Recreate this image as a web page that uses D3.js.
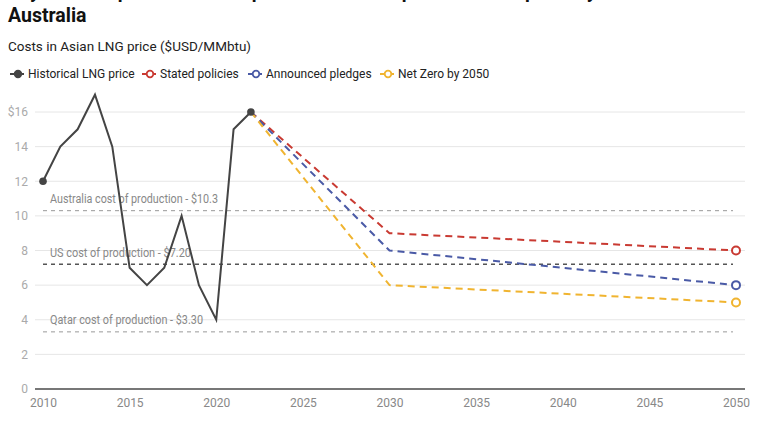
<!DOCTYPE html>
<html><head><meta charset="utf-8">
<script src="https://cdnjs.cloudflare.com/ajax/libs/d3/7.8.5/d3.min.js"></script>
<style>
body{margin:0;background:#fff;font-family:Roboto,"Noto Sans",sans-serif;}
svg{display:block;}
</style></head>
<body>
<script>
const titleLine1 = "Key costs of production compared to IEA LNG price forecast pathways for";
const titleLine2 = "Australia";
const subtitle = "Costs in Asian LNG price ($USD/MMbtu)";

const histYears = [2010,2011,2012,2013,2014,2015,2016,2017,2018,2019,2020,2021,2022];
const histValues = [12,14,15,17,14,7,6,7,10,6,4,15,16];

const projYears = [2022,2030,2050];
const statedPolicies = [16,9,8];
const announcedPledges = [16,8,6];
const netZero = [16,6,5];

const seriesNames = ["Historical LNG price","Stated policies","Announced pledges","Net Zero by 2050"];
const seriesColors = ["#444444","#c93a32","#4a5aa6","#f0b430"];

const refNames = ["Australia cost of production - $10.3","US cost of production - $7.20","Qatar cost of production - $3.30"];
const refValues = [10.3,7.2,3.3];

const yTicks = [0,2,4,6,8,10,12,14,16];
const xTicks = [2010,2015,2020,2025,2030,2035,2040,2045,2050];

const W=780,H=425;
const svg=d3.select("body").append("svg").attr("width",W).attr("height",H);

svg.append("text").attr("x",8).attr("y",-2).attr("font-size",19).attr("font-weight",700).attr("fill","#111").text(titleLine1);
svg.append("text").attr("x",8).attr("y",22).attr("font-size",19.5).attr("font-weight",700).attr("fill","#111").text(titleLine2);
svg.append("text").attr("x",8).attr("y",51).attr("font-size",13.5).attr("fill","#222").text(subtitle);

// legend
const legX=[10,142,248,380];
seriesNames.forEach((n,i)=>{
  const g=svg.append("g").attr("transform",`translate(${legX[i]},74)`);
  g.append("line").attr("x1",0).attr("x2",14).attr("stroke",seriesColors[i]).attr("stroke-width",2);
  g.append("circle").attr("cx",8).attr("r",3.3)
    .attr("fill",i===0?seriesColors[i]:"#fff").attr("stroke",seriesColors[i]).attr("stroke-width",1.8);
  g.append("text").attr("x",18).attr("y",4.3).attr("font-size",12).attr("fill","#222").text(n);
});

const x=d3.scaleLinear().domain([2010,2050]).range([43,736]);
const y=d3.scaleLinear().domain([0,16]).range([389,112]);

// gridlines
svg.append("g").selectAll("line").data(yTicks.filter(d=>d>0)).join("line")
  .attr("x1",35).attr("x2",745).attr("y1",d=>y(d)).attr("y2",d=>y(d))
  .attr("stroke","#e6e6e6").attr("stroke-width",1);

// y axis labels
const ya=svg.append("g").attr("transform","translate(28,0)")
  .call(d3.axisLeft(y).tickValues(yTicks).tickSize(0).tickPadding(0).tickFormat(d=>d===16?"$16":d));
ya.select(".domain").remove();
ya.selectAll("text").attr("font-size",12).attr("fill","#aaa").attr("font-family","Roboto");

// x axis
const xa=svg.append("g").attr("transform",`translate(0,${y(0)})`)
  .call(d3.axisBottom(x).tickValues(xTicks).tickSize(0).tickPadding(9).tickFormat(d3.format("d")));
xa.select(".domain").remove();
xa.selectAll("text").attr("font-size",12).attr("fill","#888").attr("font-family","Roboto");
svg.append("line").attr("x1",35).attr("x2",745).attr("y1",y(0)).attr("y2",y(0)).attr("stroke","#777").attr("stroke-width",2);

// reference lines
const refLabelW=[168,141,153];
refValues.forEach((v,i)=>{
  svg.append("line").attr("x1",x(2010)).attr("x2",733).attr("y1",y(v)).attr("y2",y(v))
    .attr("stroke",i===1?"#555":"#999").attr("stroke-width",i===1?1.5:1).attr("stroke-dasharray","4,4");
  svg.append("text").attr("x",50).attr("y",y(v)-7.5).attr("font-size",12.5).attr("fill","#888")
    .attr("textLength",refLabelW[i]).attr("lengthAdjust","spacingAndGlyphs").text(refNames[i]);
});

// projections
const line=d3.line().x(d=>x(d[0])).y(d=>y(d[1]));
[statedPolicies,announcedPledges,netZero].forEach((vals,i)=>{
  const pts=projYears.map((yr,j)=>[yr,vals[j]]);
  svg.append("path").datum(pts).attr("d",line).attr("fill","none")
    .attr("stroke",seriesColors[i+1]).attr("stroke-width",2).attr("stroke-dasharray","7,5");
  svg.append("circle").attr("cx",x(projYears[2])).attr("cy",y(vals[2])).attr("r",4)
    .attr("fill","#fff").attr("stroke",seriesColors[i+1]).attr("stroke-width",2);
});

// historical
const hist=histYears.map((yr,j)=>[yr,histValues[j]]);
svg.append("path").datum(hist).attr("d",line).attr("fill","none")
  .attr("stroke",seriesColors[0]).attr("stroke-width",2).attr("stroke-linejoin","miter");
[hist[0],hist[hist.length-1]].forEach(p=>{
  svg.append("circle").attr("cx",x(p[0])).attr("cy",y(p[1])).attr("r",3.8).attr("fill",seriesColors[0]);
});
</script>
</body></html>
